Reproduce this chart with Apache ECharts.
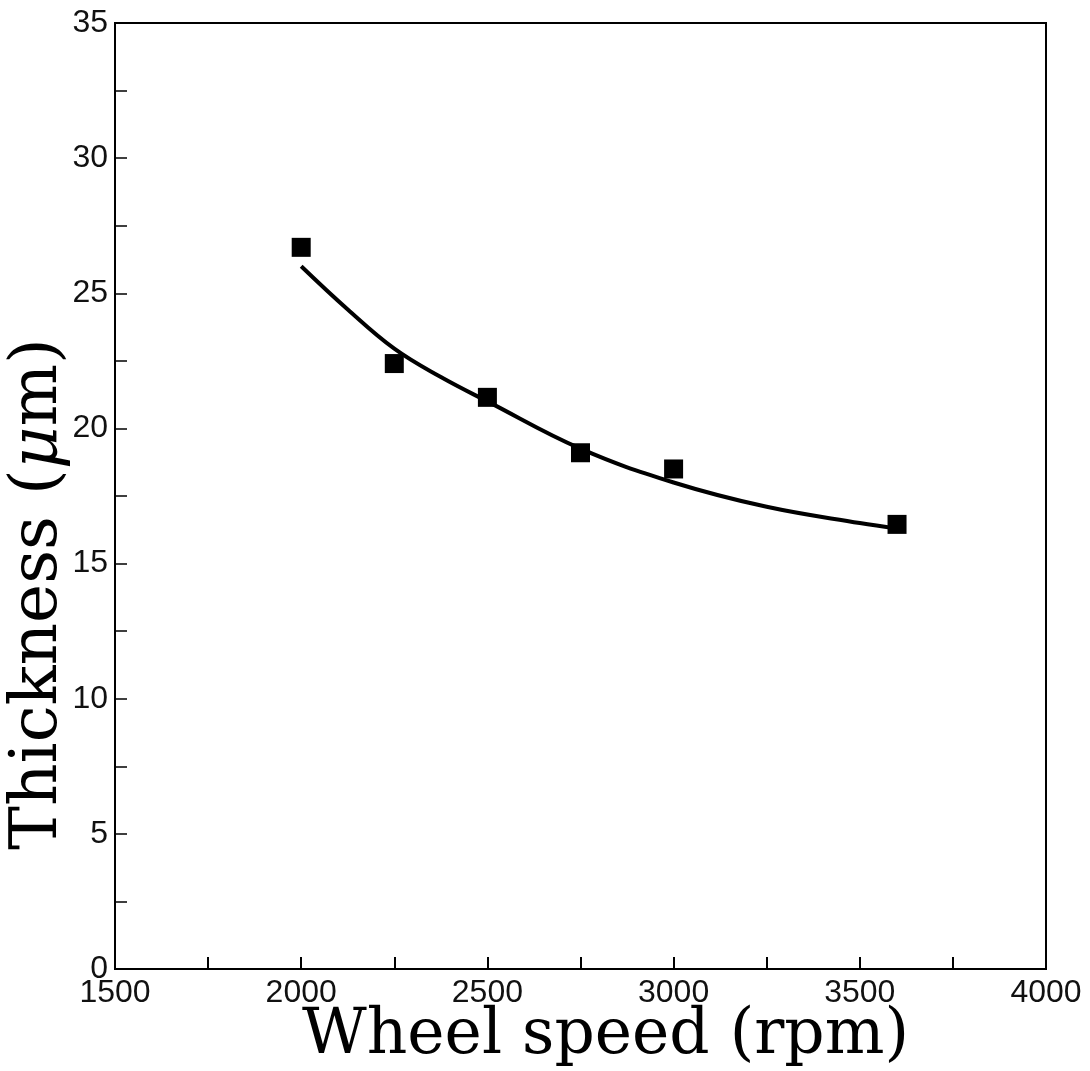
<!DOCTYPE html>
<html><head><meta charset="utf-8">
<script src="https://cdn.jsdelivr.net/npm/echarts@6/dist/echarts.min.js"></script>
<style>html,body{margin:0;padding:0;background:#fff}#c{width:1090px;height:1071px}</style>
</head><body><div id="c"></div>
<script>
var speeds = [2000, 2250, 2500, 2750, 3000, 3600];
var thickness = [26.7, 22.4, 21.15, 19.1, 18.5, 16.45];
var fitSpeeds = [2000, 2125, 2250, 2375, 2500, 2750, 3000, 3250, 3500, 3600];
var fitThickness = [26.0, 24.4, 22.95, 21.9, 21.0, 19.25, 18.0, 17.1, 16.5, 16.3];
var xTickLabels = [1500, 2000, 2500, 3000, 3500, 4000];
var yTickLabels = [0, 5, 10, 15, 20, 25, 30, 35];
var xTicks = [1500,1750,2000,2250,2500,2750,3000,3250,3500,3750,4000];
var yTicks = [0,2.5,5,7.5,10,12.5,15,17.5,20,22.5,25,27.5,30,32.5,35];

var chart = echarts.init(document.getElementById('c'));
var tickFont = {fontFamily: 'Liberation Sans', fontSize: 32, color: '#111', formatter: function(v){return String(v);}};
chart.setOption({
  animation: false,
  grid: {left: 115, right: 44, top: 23, bottom: 102, show: true, borderColor: '#000', borderWidth: 2},
  xAxis: {
    type: 'value', min: 1500, max: 4000, interval: 250,
    axisLine: {lineStyle: {color: '#000', width: 2}},
    axisTick: {inside: true, length: 12, lineStyle: {color: '#000', width: 2}, customValues: xTicks},
    axisLabel: Object.assign({margin: 8, customValues: xTickLabels}, tickFont),
    splitLine: {show: false}
  },
  yAxis: {
    type: 'value', min: 0, max: 35, interval: 2.5,
    axisLine: {lineStyle: {color: '#000', width: 2}},
    axisTick: {inside: true, length: 12, lineStyle: {color: '#000', width: 1.5}, customValues: yTicks},
    axisLabel: Object.assign({margin: 7, customValues: yTickLabels}, tickFont),
    splitLine: {show: false}
  },
  graphic: [
    {type: 'text', left: 302, top: 1005, style: {text: 'Wheel speed (rpm)', font: '63px "DejaVu Serif"', fill: '#000'}},
    {type: 'text', x: 6, y: 850, rotation: Math.PI/2, style: {
      text: '{a|Thickness (}{b|μ}{a|m)}',
      rich: {a: {fontFamily: 'DejaVu Serif', fontSize: 66, fill: '#000'},
             b: {fontFamily: 'DejaVu Serif', fontStyle: 'italic', fontSize: 66, fill: '#000'}}
    }}
  ],
  series: [
    {type: 'line', data: fitSpeeds.map(function(s,i){return [s, fitThickness[i]];}),
     smooth: 0.4, symbol: 'none', lineStyle: {color: '#000', width: 4}},
    {type: 'scatter', data: speeds.map(function(s,i){return [s, thickness[i]];}),
     symbol: 'rect', symbolSize: 19, itemStyle: {color: '#000', opacity: 1}}
  ]
});
</script></body></html>
